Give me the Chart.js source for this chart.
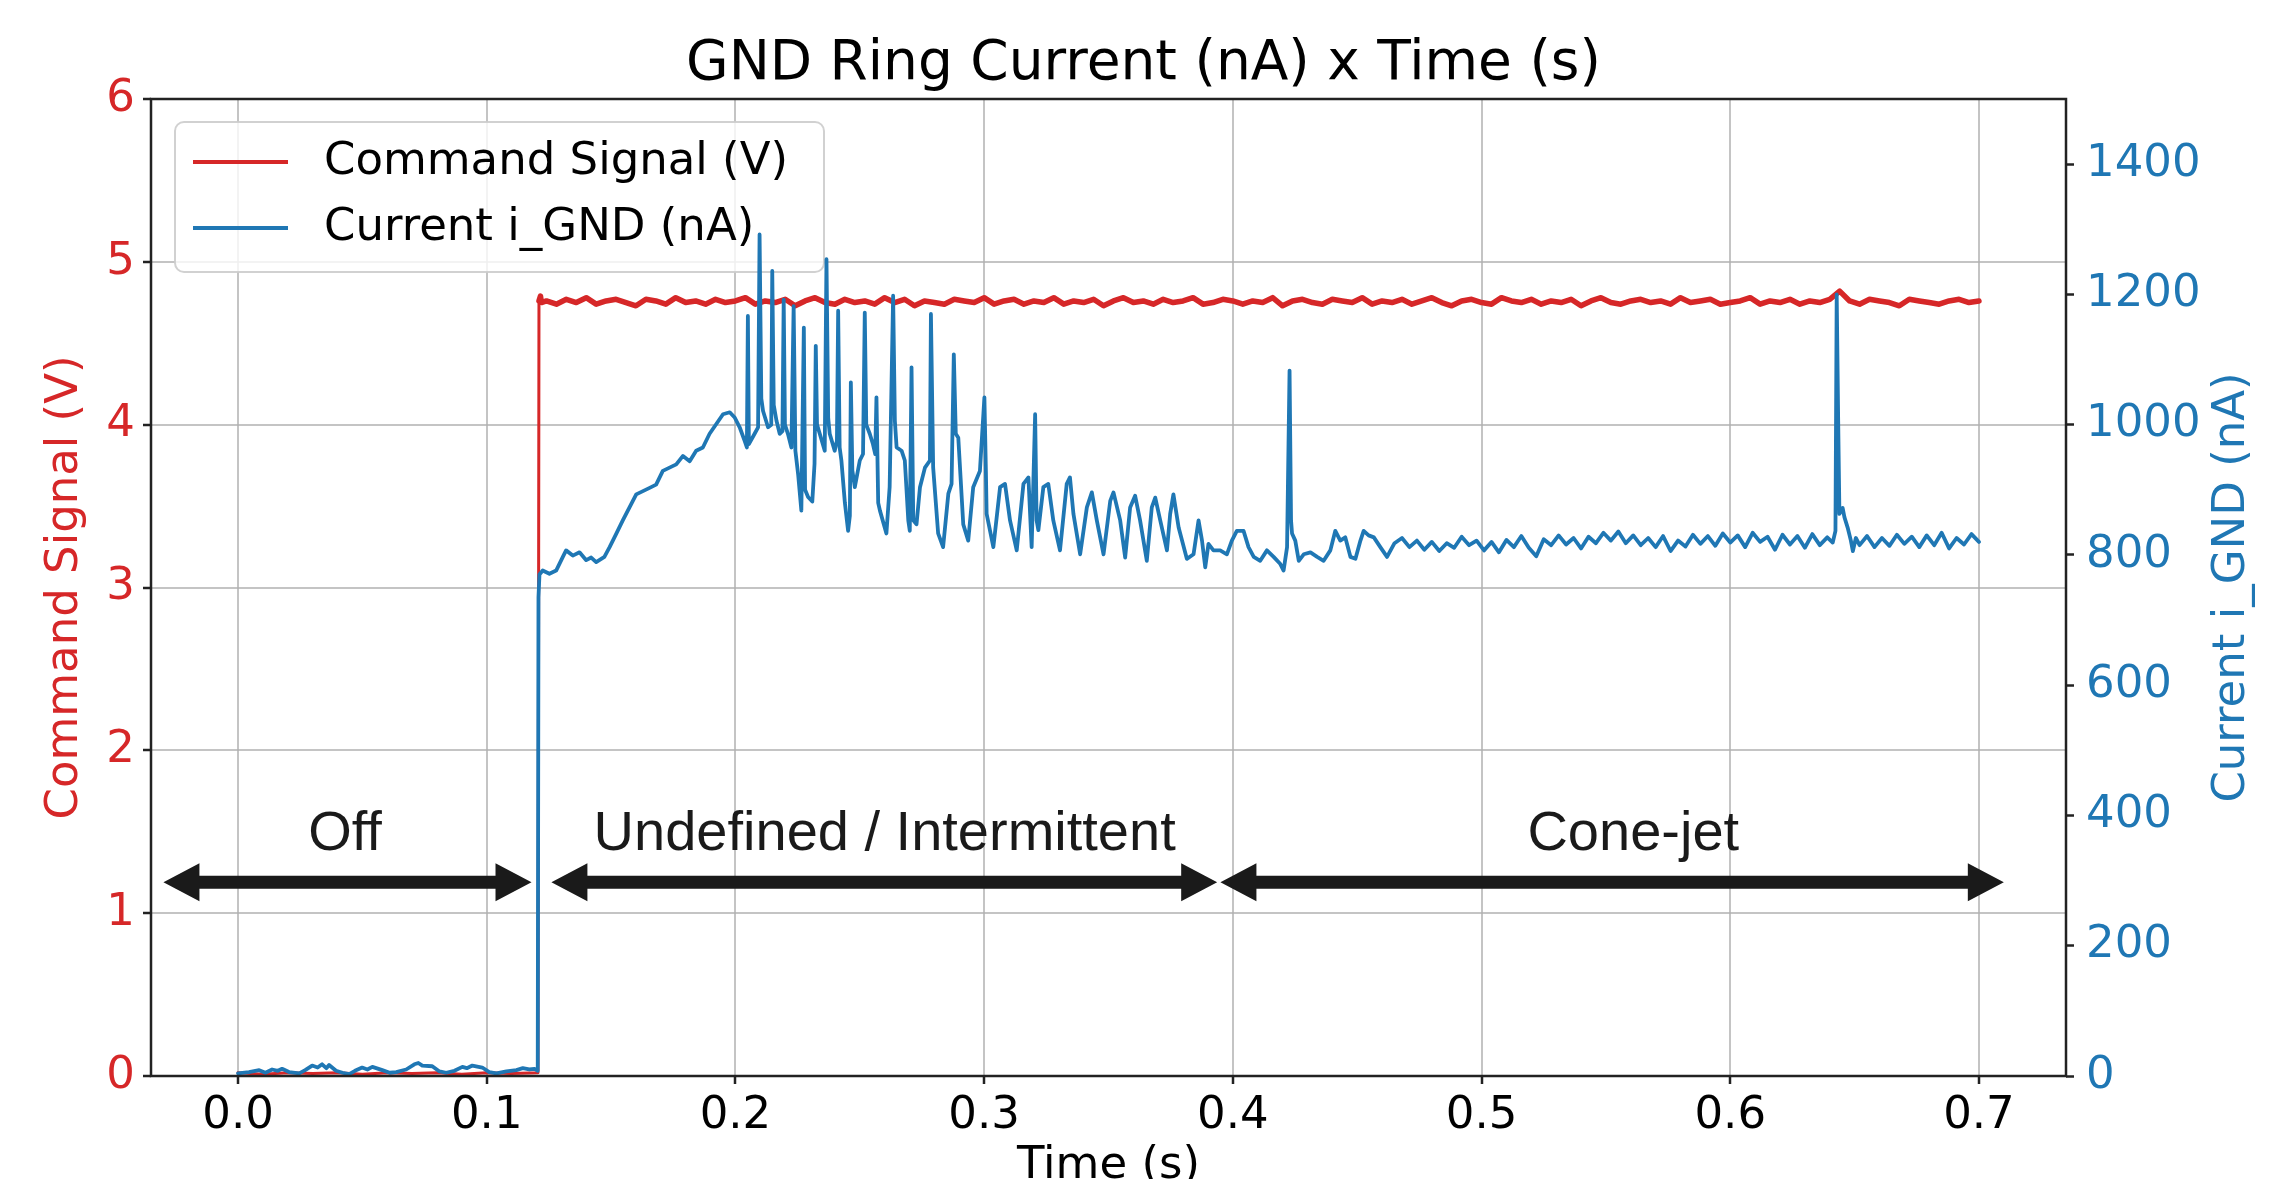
<!DOCTYPE html>
<html>
<head>
<meta charset="utf-8">
<title>GND Ring Current (nA) x Time (s)</title>
<script src="https://cdn.jsdelivr.net/npm/chart.js@4.4.1/dist/chart.umd.min.js"></script>
<style>
  html, body { margin: 0; padding: 0; background: #fff; }
</style>
</head>
<body>
<canvas id="myChart" width="2287" height="1179"></canvas>
<script>
// command signal (V), left axis
const signalTime = [
  0, 0.010, 0.020, 0.030, 0.040, 0.050, 0.060, 0.070, 0.080, 0.090,
  0.100, 0.110, 0.1206, 0.1210, 0.1216, 0.1220,
  0.124, 0.128, 0.132, 0.136, 0.140, 0.144, 0.148, 0.152, 0.156, 0.160,
  0.164, 0.168, 0.172, 0.176, 0.180, 0.184, 0.188, 0.192, 0.196, 0.200,
  0.204, 0.208, 0.212, 0.216, 0.220, 0.224, 0.228, 0.232, 0.236, 0.240,
  0.244, 0.248, 0.252, 0.256, 0.260, 0.264, 0.268, 0.272, 0.276, 0.280,
  0.284, 0.288, 0.292, 0.296, 0.300, 0.304, 0.308, 0.312, 0.316, 0.320,
  0.324, 0.328, 0.332, 0.336, 0.340, 0.344, 0.348, 0.352, 0.356, 0.360,
  0.364, 0.368, 0.372, 0.376, 0.380, 0.384, 0.388, 0.392, 0.396, 0.400,
  0.404, 0.408, 0.412, 0.416, 0.420, 0.424, 0.428, 0.432, 0.436, 0.440,
  0.444, 0.448, 0.452, 0.456, 0.460, 0.464, 0.468, 0.472, 0.476, 0.480,
  0.484, 0.488, 0.492, 0.496, 0.500, 0.504, 0.508, 0.512, 0.516, 0.520,
  0.524, 0.528, 0.532, 0.536, 0.540, 0.544, 0.548, 0.552, 0.556, 0.560,
  0.564, 0.568, 0.572, 0.576, 0.580, 0.584, 0.588, 0.592, 0.596, 0.600,
  0.604, 0.608, 0.612, 0.616, 0.620, 0.624, 0.628, 0.632, 0.636, 0.640,
  0.644, 0.648, 0.652, 0.656, 0.660, 0.664, 0.668, 0.672, 0.676, 0.680,
  0.684, 0.688, 0.692, 0.696, 0.700
];
const signalVolts = [
  0.02, 0.01, 0.02, 0.015, 0.02, 0.01, 0.02, 0.015, 0.02, 0.01,
  0.02, 0.015, 0.02, 4.76, 4.79, 4.75,
  4.76, 4.74, 4.77, 4.75, 4.78, 4.74, 4.76, 4.77, 4.75, 4.73,
  4.77, 4.76, 4.74, 4.78, 4.75, 4.76, 4.74, 4.77, 4.75, 4.76,
  4.78, 4.74, 4.76, 4.75, 4.77, 4.73, 4.76, 4.78, 4.75, 4.74,
  4.77, 4.75, 4.76, 4.74, 4.78, 4.75, 4.77, 4.73, 4.76, 4.75,
  4.74, 4.77, 4.76, 4.75, 4.78, 4.74, 4.76, 4.77, 4.74, 4.76,
  4.75, 4.78, 4.74, 4.76, 4.75, 4.77, 4.73, 4.76, 4.78, 4.75,
  4.76, 4.74, 4.77, 4.75, 4.76, 4.78, 4.74, 4.75, 4.77, 4.76,
  4.74, 4.76, 4.75, 4.78, 4.73, 4.76, 4.77, 4.75, 4.74, 4.77,
  4.76, 4.75, 4.78, 4.74, 4.76, 4.75, 4.77, 4.74, 4.76, 4.78,
  4.75, 4.73, 4.76, 4.77, 4.75, 4.74, 4.78, 4.76, 4.75, 4.77,
  4.74, 4.76, 4.75, 4.77, 4.73, 4.76, 4.78, 4.75, 4.74, 4.76,
  4.77, 4.75, 4.76, 4.74, 4.78, 4.75, 4.76, 4.77, 4.74, 4.75,
  4.76, 4.78, 4.74, 4.76, 4.75, 4.77, 4.74, 4.76, 4.75, 4.77,
  4.82, 4.76, 4.74, 4.77, 4.76, 4.75, 4.73, 4.77, 4.76, 4.75,
  4.74, 4.76, 4.77, 4.75, 4.76
];

// ground ring current (nA), right axis
const currentTime = [
  0.0000, 0.0044, 0.0085, 0.0110, 0.0137, 0.0160, 0.0177, 0.0205, 0.0246, 0.0270,
  0.0298, 0.0320, 0.0338, 0.0355, 0.0366, 0.0394, 0.0420, 0.0447, 0.0470, 0.0499,
  0.0520, 0.0540, 0.0580, 0.0610, 0.0636, 0.0676, 0.0709, 0.0725, 0.0741, 0.0781,
  0.0810, 0.0837, 0.0870, 0.0902, 0.0920, 0.0942, 0.0982, 0.1010, 0.1039, 0.1079,
  0.1119, 0.1145, 0.1171, 0.1192, 0.1205, 0.1208, 0.1212, 0.1225, 0.1252, 0.1279,
  0.1306, 0.1319, 0.1346, 0.1373, 0.1400, 0.1420, 0.1440, 0.1473, 0.1494, 0.1520,
  0.1547, 0.1574, 0.1601, 0.1628, 0.1655, 0.1681, 0.1708, 0.1735, 0.1762, 0.1789,
  0.1816, 0.1842, 0.1869, 0.1896, 0.1923, 0.1950, 0.1977, 0.1997, 0.2017, 0.2037,
  0.2046, 0.2050, 0.2054, 0.2077, 0.2091, 0.2097, 0.2104, 0.2111, 0.2131, 0.2144,
  0.2148, 0.2154, 0.2165, 0.2178, 0.2189, 0.2194, 0.2199, 0.2211, 0.2225, 0.2234,
  0.2241, 0.2252, 0.2265, 0.2275, 0.2280, 0.2292, 0.2309, 0.2318, 0.2323, 0.2328,
  0.2339, 0.2359, 0.2366, 0.2373, 0.2379, 0.2399, 0.2408, 0.2413, 0.2419, 0.2426,
  0.2440, 0.2453, 0.2460, 0.2464, 0.2470, 0.2480, 0.2500, 0.2513, 0.2520, 0.2526,
  0.2540, 0.2553, 0.2562, 0.2567, 0.2574, 0.2581, 0.2607, 0.2620, 0.2634, 0.2641,
  0.2648, 0.2668, 0.2681, 0.2695, 0.2701, 0.2708, 0.2715, 0.2728, 0.2742, 0.2762,
  0.2782, 0.2786, 0.2795, 0.2815, 0.2835, 0.2856, 0.2869, 0.2878, 0.2886, 0.2896,
  0.2916, 0.2936, 0.2956, 0.2983, 0.3001, 0.3007, 0.3010, 0.3037, 0.3064, 0.3084,
  0.3104, 0.3131, 0.3158, 0.3178, 0.3191, 0.3205, 0.3211, 0.3218, 0.3238, 0.3258,
  0.3278, 0.3305, 0.3332, 0.3345, 0.3359, 0.3386, 0.3413, 0.3433, 0.3453, 0.3480,
  0.3507, 0.3520, 0.3547, 0.3567, 0.3587, 0.3607, 0.3627, 0.3654, 0.3674, 0.3688,
  0.3708, 0.3735, 0.3748, 0.3761, 0.3782, 0.3815, 0.3842, 0.3862, 0.3876, 0.3889,
  0.3902, 0.3922, 0.3949, 0.3976, 0.3996, 0.4016, 0.4043, 0.4063, 0.4084, 0.4110,
  0.4137, 0.4164, 0.4191, 0.4204, 0.4218, 0.4228, 0.4234, 0.4238, 0.4251, 0.4265,
  0.4285, 0.4312, 0.4339, 0.4365, 0.4392, 0.4412, 0.4432, 0.4452, 0.4473, 0.4493,
  0.4513, 0.4526, 0.4546, 0.4567, 0.4593, 0.4620, 0.4650, 0.4680, 0.4710, 0.4740,
  0.4770, 0.4800, 0.4830, 0.4860, 0.4890, 0.4920, 0.4950, 0.4980, 0.5010, 0.5040,
  0.5070, 0.5100, 0.5130, 0.5160, 0.5190, 0.5220, 0.5250, 0.5280, 0.5310, 0.5340,
  0.5370, 0.5400, 0.5430, 0.5460, 0.5490, 0.5520, 0.5550, 0.5580, 0.5610, 0.5640,
  0.5670, 0.5700, 0.5730, 0.5760, 0.5790, 0.5820, 0.5850, 0.5880, 0.5910, 0.5940,
  0.5970, 0.6000, 0.6030, 0.6060, 0.6090, 0.6120, 0.6150, 0.6180, 0.6210, 0.6240,
  0.6270, 0.6300, 0.6330, 0.6360, 0.6390, 0.6412, 0.6423, 0.6428, 0.6434, 0.6439,
  0.6452, 0.6459, 0.6472, 0.6485, 0.6493, 0.6505, 0.6520, 0.6550, 0.6580, 0.6610,
  0.6640, 0.6670, 0.6700, 0.6730, 0.6760, 0.6790, 0.6820, 0.6850, 0.6880, 0.6910,
  0.6940, 0.6970, 0.7000
];
const currentNA = [
  4, 6, 9, 5, 10, 8, 11, 6, 4, 9,
  16, 13, 18, 12, 17, 8, 5, 3, 8, 13,
  10, 14, 9, 5, 6, 10, 18, 20, 16, 15,
  7, 5, 8, 14, 12, 16, 13, 6, 4, 7,
  9, 12, 10, 11, 8, 735, 770, 776, 771, 776,
  797, 807, 799, 804, 792, 796, 789, 797, 812, 832,
  853, 873, 893, 898, 903, 908, 929, 934, 939, 952,
  944, 960, 965, 986, 1001, 1016, 1019, 1011, 996, 975,
  965, 1167, 970, 986, 996, 1292, 1040, 1021, 996, 1000,
  1236, 1030, 1006, 986, 990, 1192, 1000, 986, 965, 1182,
  960, 924, 868, 1149, 900, 889, 882, 940, 1121, 1000,
  986, 960, 1254, 1010, 986, 960, 975, 1175, 965, 945,
  880, 837, 860, 1065, 930, 904, 945, 955, 1172, 1000,
  986, 970, 955, 1042, 880, 868, 833, 904, 1198, 1006,
  965, 960, 945, 853, 837, 1088, 853, 847, 904, 934,
  945, 1170, 934, 833, 812, 894, 909, 1108, 986, 980,
  847, 822, 904, 929, 1042, 929, 863, 812, 904, 909,
  853, 807, 909, 919, 812, 1016, 853, 838, 904, 909,
  853, 807, 909, 919, 863, 801, 873, 896, 853, 801,
  883, 896, 853, 796, 873, 891, 853, 791, 873, 888,
  853, 807, 863, 893, 842, 794, 801, 853, 822, 781,
  817, 807, 807, 801, 822, 837, 837, 812, 797, 791,
  807, 797, 786, 776, 812, 1083, 853, 833, 822, 791,
  801, 804, 797, 791, 807, 837, 822, 827, 797, 794,
  822, 837, 830, 827, 812, 797, 818, 826, 812, 822,
  808, 820, 806, 818, 811, 828, 815, 822, 807, 820,
  804, 823, 812, 829, 811, 798, 824, 815, 830, 816,
  826, 810, 828, 818, 834, 822, 836, 818, 830, 815,
  826, 812, 829, 806, 822, 813, 831, 817, 829, 814,
  833, 819, 830, 812, 834, 820, 828, 808, 831, 816,
  829, 811, 832, 815, 827, 819, 837, 1200, 1006, 863,
  872, 858, 842, 822, 806, 826, 815, 829, 812, 826,
  814, 831, 817, 828, 812, 830, 815, 834, 810, 826,
  816, 832, 820
];

// tick labels
const timeTicks = [0.0, 0.1, 0.2, 0.3, 0.4, 0.5, 0.6, 0.7];
const voltTicks = [0, 1, 2, 3, 4, 5, 6];
const currentTicks = [0, 200, 400, 600, 800, 1000, 1200, 1400];

// regime arrows (time in s, height on the volt axis)
const phaseLabels = ['Off', 'Undefined / Intermittent', 'Cone-jet'];
const phaseFrom = [-0.030, 0.126, 0.395];
const phaseTo = [0.118, 0.3937, 0.710];
const phaseLabelAt = [0.043, 0.260, 0.561];
const arrowLevel = 1.19;
const labelLevel = 1.39;

const RED = '#d62728';
const BLUE = '#1f77b4';
const GRID = 'rgba(176,176,176,0.75)';
const FONT = '"DejaVu Sans", sans-serif';

Chart.defaults.font.family = FONT;

function drawDoubleArrow(ctx, x1, x2, y) {
    const head = 36, half = 19, shaft = 6.5;
    ctx.beginPath();
    ctx.moveTo(x1, y);
    ctx.lineTo(x1 + head, y - half);
    ctx.lineTo(x1 + head, y - shaft);
    ctx.lineTo(x2 - head, y - shaft);
    ctx.lineTo(x2 - head, y - half);
    ctx.lineTo(x2, y);
    ctx.lineTo(x2 - head, y + half);
    ctx.lineTo(x2 - head, y + shaft);
    ctx.lineTo(x1 + head, y + shaft);
    ctx.lineTo(x1 + head, y + half);
    ctx.closePath();
    ctx.fill();
}

// legend sits between the red and the blue line, like the twin axes do
const overlayPlugin = {
    id: 'overlay',
    afterDatasetDraw(chart, args) {
        if (args.index !== 0) return;
        const { ctx, chartArea: a } = chart;
        const bx = a.left + 24, by = a.top + 23, bw = 649, bh = 150;
        ctx.save();
        ctx.fillStyle = 'rgba(255,255,255,0.8)';
        ctx.strokeStyle = 'rgba(204,204,204,0.9)';
        ctx.lineWidth = 2;
        ctx.beginPath();
        ctx.roundRect(bx, by, bw, bh, 9);
        ctx.fill();
        ctx.stroke();
        chart.data.datasets.forEach((ds, i) => {
            const y = by + 40 + i * 66;
            ctx.strokeStyle = ds.borderColor;
            ctx.lineWidth = 4;
            ctx.beginPath();
            ctx.moveTo(bx + 18, y);
            ctx.lineTo(bx + 113, y);
            ctx.stroke();
            ctx.fillStyle = '#000';
            ctx.font = '45px ' + FONT;
            ctx.textBaseline = 'middle';
            ctx.textAlign = 'left';
            ctx.fillText(ds.label, bx + 149, y);
        });
        ctx.restore();
    },
    afterDatasetsDraw(chart) {
        const { ctx, chartArea: a, scales } = chart;
        const xs = scales.x, ys = scales.y;
        ctx.save();
        ctx.fillStyle = '#1a1a1a';
        const ay = ys.getPixelForValue(arrowLevel);
        const ly = ys.getPixelForValue(labelLevel);
        phaseLabels.forEach((label, i) => {
            drawDoubleArrow(ctx, xs.getPixelForValue(phaseFrom[i]), xs.getPixelForValue(phaseTo[i]), ay);
            ctx.font = '56px "Liberation Sans", Arial, sans-serif';
            ctx.textAlign = 'center';
            ctx.textBaseline = 'alphabetic';
            ctx.fillText(label, xs.getPixelForValue(phaseLabelAt[i]), ly);
        });
        // axes frame
        ctx.strokeStyle = '#222';
        ctx.lineWidth = 2.5;
        ctx.strokeRect(a.left, a.top, a.right - a.left, a.bottom - a.top);
        ctx.restore();
    },
    afterDraw(chart) {
        // right axis title reads bottom to top, as in the source figure
        const { ctx, chartArea: a, scales } = chart;
        ctx.save();
        ctx.translate(scales.y2.right - 55, (a.top + a.bottom) / 2);
        ctx.rotate(-Math.PI / 2);
        ctx.fillStyle = BLUE;
        ctx.font = '45px ' + FONT;
        ctx.textAlign = 'center';
        ctx.textBaseline = 'middle';
        ctx.fillText('Current i_GND (nA)', 0, 0);
        ctx.restore();
    }
};

const signalData = signalTime.map((t, i) => ({ x: t, y: signalVolts[i] }));
const currentData = currentTime.map((t, i) => ({ x: t, y: currentNA[i] }));

const ctx = document.getElementById('myChart').getContext('2d');
new Chart(ctx, {
    type: 'line',
    data: {
        datasets: [
            {
                label: 'Command Signal (V)',
                data: signalData,
                yAxisID: 'y',
                borderColor: RED,
                borderWidth: 5.5,
                pointRadius: 0,
                order: 2,
                // the noisy plateau reads as a thick band, the step itself is thin
                segment: {
                    borderWidth: (c) => (Math.abs(c.p1.parsed.y - c.p0.parsed.y) > 1 || c.p0.parsed.y < 1 ? 3 : 5.5)
                }
            },
            {
                label: 'Current i_GND (nA)',
                data: currentData,
                yAxisID: 'y2',
                borderColor: BLUE,
                borderWidth: 3.8,
                pointRadius: 0,
                order: 1
            }
        ]
    },
    options: {
        responsive: false,
        devicePixelRatio: 1,
        animation: false,
        layout: { padding: 0 },
        elements: { line: { tension: 0, borderJoinStyle: 'round', borderCapStyle: 'round' } },
        plugins: {
            legend: { display: false },
            tooltip: { enabled: false },
            title: {
                display: true,
                text: 'GND Ring Current (nA) x Time (s)',
                color: '#000',
                font: { size: 55, weight: 'normal' },
                padding: { top: 32, bottom: 1 }
            }
        },
        scales: {
            x: {
                type: 'linear',
                min: -0.035,
                max: 0.735,
                afterBuildTicks: (s) => { s.ticks = timeTicks.map(v => ({ value: v })); },
                afterFit: (s) => { s.height = 103; },
                ticks: {
                    color: '#000',
                    font: { size: 45 },
                    padding: 5,
                    maxRotation: 0,
                    autoSkip: false,
                    callback: (v) => Number(v).toFixed(1)
                },
                grid: { color: GRID, lineWidth: 2, tickLength: 8, tickColor: '#222', tickWidth: 2.5 },
                border: { display: false },
                title: {
                    display: true,
                    text: 'Time (s)',
                    color: '#000',
                    font: { size: 45 },
                    padding: { top: 0, bottom: -14 }
                }
            },
            y: {
                position: 'left',
                min: 0,
                max: 6,
                afterBuildTicks: (s) => { s.ticks = voltTicks.map(v => ({ value: v })); },
                afterFit: (s) => { s.width = 151; },
                ticks: { color: RED, font: { size: 45 }, padding: 8, callback: (v) => String(v) },
                grid: { color: GRID, lineWidth: 2, tickLength: 8, tickColor: '#222', tickWidth: 2.5 },
                border: { display: false },
                title: {
                    display: true,
                    text: 'Command Signal (V)',
                    color: RED,
                    font: { size: 45 },
                    padding: { top: 38, bottom: 0 }
                }
            },
            y2: {
                position: 'right',
                min: 0,
                max: 1500,
                afterBuildTicks: (s) => { s.ticks = currentTicks.map(v => ({ value: v })); },
                afterFit: (s) => { s.width = 221; },
                ticks: { color: BLUE, font: { size: 45 }, padding: 12, callback: (v) => String(v) },
                grid: { drawOnChartArea: false, tickLength: 8, tickColor: '#222', tickWidth: 2.5 },
                border: { display: false }
            }
        }
    },
    plugins: [overlayPlugin]
});
</script>
</body>
</html>
